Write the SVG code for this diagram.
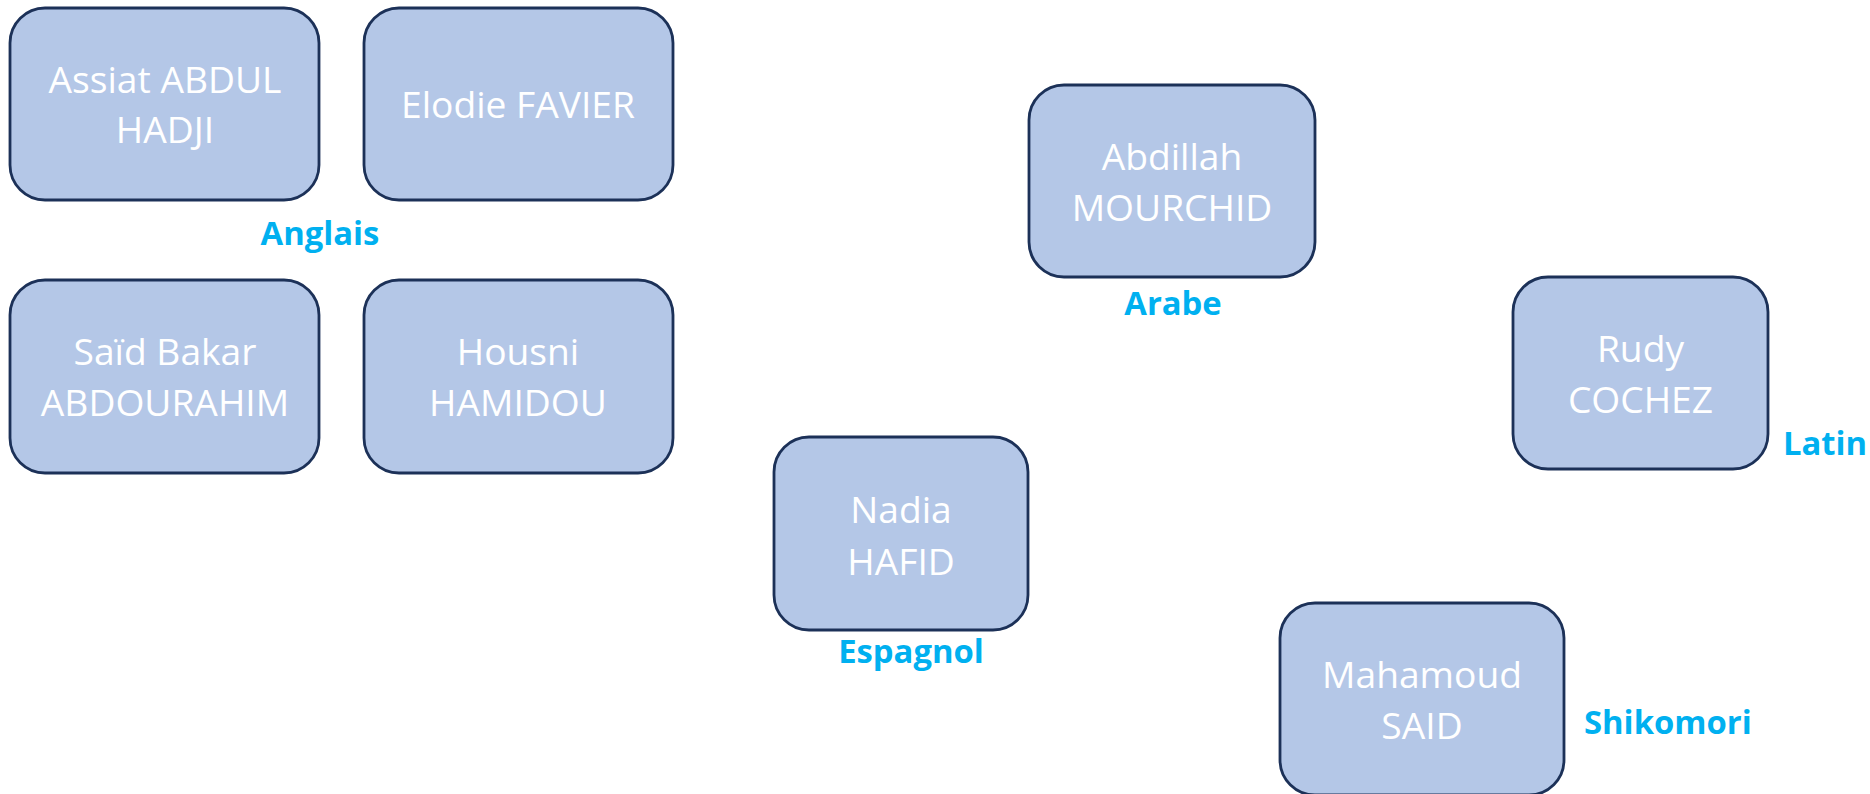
<svg xmlns="http://www.w3.org/2000/svg" width="1870" height="794" viewBox="0 0 1870 794">
<style>
.box{fill:#B4C7E7;stroke:#1C3158;stroke-width:2.8}
.name{font-family:"Open Sans","Noto Sans",sans-serif;font-size:37.2px;fill:#FFFFFF;text-anchor:middle}
.lang{font-family:"Open Sans","Noto Sans",sans-serif;font-size:32.8px;font-weight:bold;fill:#00B0F0}
.mid{text-anchor:middle}
</style>
<rect width="1870" height="794" fill="#FFFFFF"/>
<g id="connectors"></g>
<g id="node-assiat">
<rect class="box" x="10" y="8" width="309" height="192" rx="35"/>
<text class="name" x="165" y="93">Assiat ABDUL</text>
<text class="name" x="165" y="143">HADJI</text>
</g>
<g id="node-elodie">
<rect class="box" x="364" y="8" width="309" height="192" rx="35"/>
<text class="name" x="518" y="118">Elodie FAVIER</text>
</g>
<g id="node-said-bakar">
<rect class="box" x="10" y="280" width="309" height="193" rx="35"/>
<text class="name" x="165" y="365">Saïd Bakar</text>
<text class="name" x="165" y="416">ABDOURAHIM</text>
</g>
<g id="node-housni">
<rect class="box" x="364" y="280" width="309" height="193" rx="35"/>
<text class="name" x="518" y="365">Housni</text>
<text class="name" x="518" y="416">HAMIDOU</text>
</g>
<g id="node-abdillah">
<rect class="box" x="1029" y="85" width="286" height="192" rx="35"/>
<text class="name" x="1172" y="170">Abdillah</text>
<text class="name" x="1172" y="221">MOURCHID</text>
</g>
<g id="node-nadia">
<rect class="box" x="774" y="437" width="254" height="193" rx="35"/>
<text class="name" x="901" y="523">Nadia</text>
<text class="name" x="901" y="575">HAFID</text>
</g>
<g id="node-rudy">
<rect class="box" x="1513" y="277" width="255" height="192" rx="35"/>
<text class="name" x="1640.5" y="362">Rudy</text>
<text class="name" x="1640.5" y="413">COCHEZ</text>
</g>
<g id="node-mahamoud">
<rect class="box" x="1280" y="603" width="284" height="192" rx="35"/>
<text class="name" x="1422" y="688">Mahamoud</text>
<text class="name" x="1422" y="739">SAID</text>
</g>
<g id="labels">
<text class="lang mid" x="320" y="245">Anglais</text>
<text class="lang mid" x="1173" y="315">Arabe</text>
<text class="lang mid" x="911" y="663">Espagnol</text>
<text class="lang" x="1783" y="455">Latin</text>
<text class="lang" x="1584" y="734">Shikomori</text>
</g>
</svg>
